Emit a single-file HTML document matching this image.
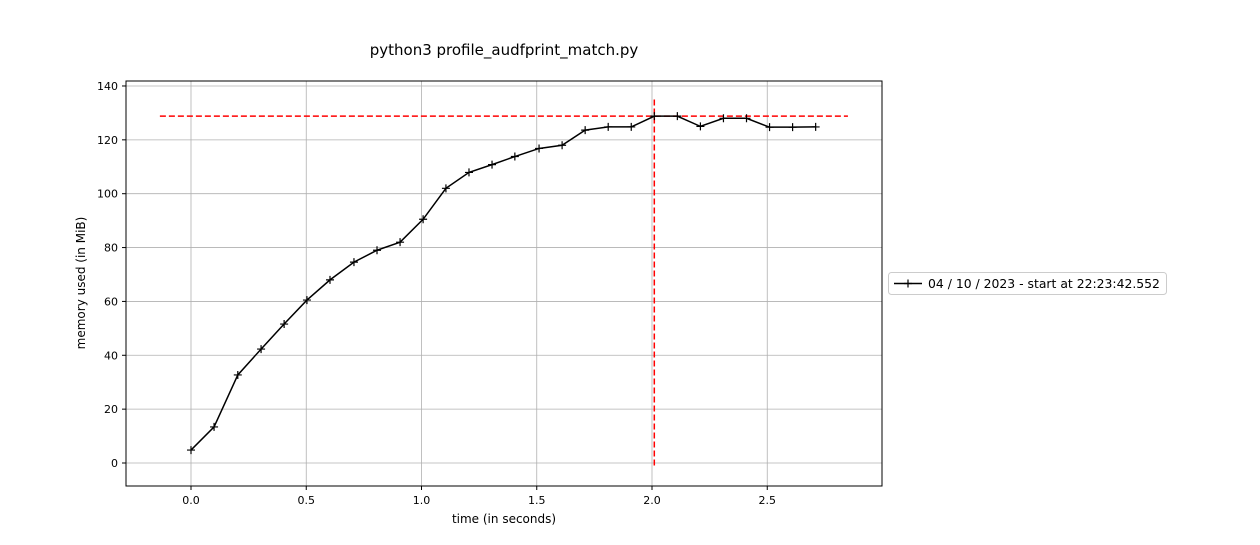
<!DOCTYPE html>
<html><head><meta charset="utf-8"><style>
body{margin:0;background:#fff;}
svg text{font-family:"DejaVu Sans","Liberation Sans",sans-serif;}
</style></head><body>
<svg id="chart" width="1260" height="540">
<text x="504" y="55" font-size="15" text-anchor="middle">python3 profile_audfprint_match.py</text>
<g id="grid"></g>
<g id="plot"></g>
<rect x="126" y="81" width="756" height="405" fill="none" stroke="#000" stroke-width="1"/>
<g id="axes"></g>
<text x="504" y="523" font-size="12" text-anchor="middle">time (in seconds)</text>
<text transform="translate(85,283) rotate(-90)" font-size="12" text-anchor="middle">memory used (in MiB)</text>
<g>
<rect x="888.5" y="272.5" width="278" height="22" rx="3" fill="#fff" stroke="#ccc"/>
<line x1="894" y1="283.5" x2="922" y2="283.5" stroke="#000" stroke-width="1.5"/>
<path d="M908 279.5v8M904 283.5h8" stroke="#000" stroke-width="1.2"/>
<text x="928" y="288" font-size="12.4">04 / 10 / 2023 - start at 22:23:42.552</text>
</g>
</svg>
<script>
const times=[0,0.1,0.203,0.304,0.404,0.503,0.603,0.707,0.807,0.907,1.007,1.106,1.206,1.306,1.405,1.51,1.61,1.71,1.81,1.91,2.01,2.11,2.21,2.31,2.41,2.51,2.61,2.71];
const memory=[4.8,13.4,32.7,42.3,51.6,60.5,68,74.6,79,82,90.5,102,107.9,110.8,113.8,116.8,118,123.6,124.8,124.8,128.8,128.8,125,128,128,124.7,124.7,124.8];
const xTicks=[0,0.5,1.0,1.5,2.0,2.5];
const xTickLabels=["0.0","0.5","1.0","1.5","2.0","2.5"];
const yTicks=[0,20,40,60,80,100,120,140];
const peakMem=128.8, peakTime=2.01;
const X=t=>191+t*230.5;
const Y=v=>463-v*2.693;
const NS="http://www.w3.org/2000/svg";
function mk(tag,attrs,parent){const e=document.createElementNS(NS,tag);for(const k in attrs)e.setAttribute(k,attrs[k]);document.getElementById(parent).appendChild(e);return e;}
xTicks.forEach((t,i)=>{
 const g=mk('line',{x1:X(t),x2:X(t),y1:81,y2:486,stroke:'#b0b0b0','stroke-width':0.8},'grid');
 
 
 mk('line',{x1:X(t),x2:X(t),y1:486,y2:490,stroke:'#000'},'axes');
 const l=mk('text',{x:X(t),y:504,'font-size':11,'text-anchor':'middle'},'axes');l.textContent=xTickLabels[i];
 
 
});
yTicks.forEach(v=>{
 const g=mk('line',{x1:126,x2:882,y1:Y(v),y2:Y(v),stroke:'#b0b0b0','stroke-width':0.8},'grid');
 
 
 mk('line',{x1:122,x2:126,y1:Y(v),y2:Y(v),stroke:'#000'},'axes');
 const l=mk('text',{x:118,y:Y(v)+4,'font-size':11,'text-anchor':'end'},'axes');l.textContent=v;
 
 
});
const h=mk('line',{x1:X(-0.135),x2:X(2.85),y1:Y(peakMem),y2:Y(peakMem),stroke:'#f00','stroke-width':1.5,'stroke-dasharray':'6,3'},'plot');


const v=mk('line',{x1:X(peakTime),x2:X(peakTime),y1:Y(135),y2:Y(-2),stroke:'#f00','stroke-width':1.5,'stroke-dasharray':'6,3'},'plot');


const line=mk('polyline',{points:times.map((t,i)=>X(t)+','+Y(memory[i])).join(' '),fill:'none',stroke:'#000','stroke-width':1.5},'plot');


times.forEach((t,i)=>{
 const p=mk('path',{d:`M${X(t)} ${Y(memory[i])-4}v8M${X(t)-4} ${Y(memory[i])}h8`,stroke:'#000','stroke-width':1.2},'plot');
 
 
});
</script>
</body></html>
